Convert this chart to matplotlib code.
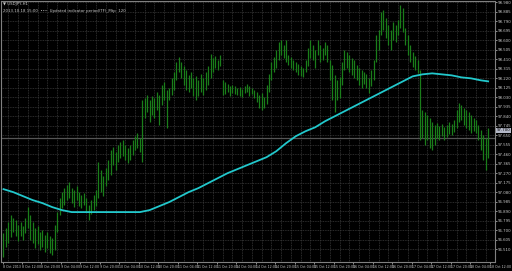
#!/usr/bin/env python3
"""USDJPY H1 bar chart with a long moving average, MetaTrader style."""

import matplotlib
matplotlib.use('Agg')
import matplotlib.pyplot as plt
import numpy as np

# bar highs / lows (price)
highs = [96.67, 96.72, 96.78, 96.85, 96.82, 96.80, 96.75, 96.78, 96.74, 96.82,
         96.93, 96.85, 96.78, 96.72, 96.74, 96.68, 96.70, 96.65, 96.68, 96.64,
         96.62, 96.75, 96.88, 97.02, 97.08, 97.12, 97.15, 97.18, 97.12, 97.10,
         97.14, 97.08, 97.05, 97.07, 97.02, 96.95, 97.00, 97.05, 97.10, 97.38,
         97.30, 97.24, 97.32, 97.40, 97.50, 97.53, 97.48, 97.55, 97.58, 97.60,
         97.55, 97.52, 97.55, 97.60, 97.64, 97.67, 97.62, 98.00, 98.02, 98.05,
         98.00, 98.04, 98.02, 98.08, 98.05, 98.15, 98.18, 98.10, 98.12, 98.22,
         98.28, 98.38, 98.43, 98.38, 98.34, 98.30, 98.25, 98.28, 98.22, 98.24,
         98.20, 98.26, 98.22, 98.28, 98.34, 98.46, 98.42, 98.44, 98.40, 98.45,
         98.20, 98.18, 98.16, 98.14, 98.15, 98.14, 98.12, 98.13, 98.11, 98.14,
         98.16, 98.14, 98.12, 98.10, 98.08, 98.05, 98.07, 98.03, 98.15, 98.26,
         98.38, 98.43, 98.50, 98.58, 98.60, 98.55, 98.60, 98.45, 98.43, 98.40,
         98.38, 98.36, 98.34, 98.32, 98.40, 98.52, 98.60, 98.55, 98.50, 98.60,
         98.55, 98.52, 98.58, 98.55, 98.40, 98.35, 98.25, 98.20, 98.23, 98.38,
         98.50, 98.48, 98.45, 98.42, 98.40, 98.35, 98.32, 98.30, 98.28, 98.26,
         98.22, 98.30, 98.40, 98.65, 98.70, 98.88, 98.90, 98.82, 98.75, 98.70,
         98.78, 98.75, 98.80, 98.95, 98.92, 98.72, 98.65, 98.55, 98.48, 98.44,
         98.40, 98.30, 97.90, 97.88, 97.85, 97.82, 97.78, 97.75, 97.77, 97.74,
         97.76, 97.73, 97.75, 97.78, 97.76, 97.80, 97.90, 97.97, 97.95, 97.92,
         97.90, 97.88, 97.85, 97.82, 97.80, 97.75, 97.70, 97.65, 97.62, 97.72]
lows = [96.43, 96.53, 96.57, 96.63, 96.68, 96.64, 96.59, 96.64, 96.60, 96.67,
        96.72, 96.60, 96.57, 96.52, 96.56, 96.50, 96.53, 96.48, 96.52, 96.47,
        96.45, 96.50, 96.68, 96.85, 96.92, 96.95, 97.00, 97.02, 96.97, 96.93,
        97.00, 96.94, 96.92, 96.95, 96.88, 96.80, 96.86, 96.90, 96.94, 97.02,
        97.08, 97.04, 97.14, 97.20, 97.25, 97.35, 97.30, 97.38, 97.42, 97.44,
        97.40, 97.37, 97.40, 97.45, 97.50, 97.52, 97.48, 97.38, 97.82, 97.88,
        97.78, 97.85, 97.82, 97.90, 97.75, 97.95, 98.00, 97.72, 98.00, 98.05,
        98.10, 98.20, 98.28, 98.22, 98.15, 98.10, 98.08, 98.12, 98.04, 98.00,
        98.04, 98.08, 98.05, 98.10, 98.15, 98.22, 98.28, 98.32, 98.30, 98.34,
        98.05, 98.06, 98.08, 98.04, 98.07, 98.06, 98.05, 98.04, 98.03, 98.07,
        98.08, 98.04, 98.06, 98.02, 97.98, 97.92, 97.90, 97.92, 97.96, 98.08,
        98.20, 98.28, 98.32, 98.40, 98.45, 98.42, 98.38, 98.35, 98.32, 98.30,
        98.28, 98.25, 98.24, 98.23, 98.28, 98.34, 98.42, 98.40, 98.32, 98.45,
        98.38, 98.40, 98.45, 98.38, 98.20, 98.00, 97.88, 98.00, 98.02, 98.15,
        98.30, 98.32, 98.28, 98.25, 98.22, 98.20, 98.15, 98.12, 98.16, 98.12,
        98.07, 98.14, 98.20, 98.38, 98.50, 98.65, 98.70, 98.62, 98.55, 98.50,
        98.60, 98.58, 98.65, 98.72, 98.68, 98.55, 98.45, 98.38, 98.33, 98.30,
        98.27, 97.60, 97.62, 97.55, 97.60, 97.52, 97.50, 97.55, 97.62, 97.60,
        97.64, 97.60, 97.63, 97.66, 97.65, 97.68, 97.72, 97.78, 97.80, 97.75,
        97.72, 97.70, 97.67, 97.69, 97.67, 97.60, 97.50, 97.40, 97.30, 97.42]

# moving average, sampled every 4 bars (last point at the last bar)
ma_index = [0, 4, 8, 12, 16, 20, 24, 28, 32, 36, 40, 44, 48, 52, 56, 60,
            64, 68, 72, 76, 80, 84, 88, 92, 96, 100, 104, 108, 112, 116,
            120, 124, 128, 132, 136, 140, 144, 148, 152, 156, 160, 164,
            168, 172, 176, 180, 184, 188, 192, 196, 199]
ma_values = [97.11, 97.08, 97.04, 97.00, 96.97, 96.93, 96.90, 96.88, 96.88,
             96.88, 96.88, 96.88, 96.88, 96.88, 96.88, 96.90, 96.94, 96.98,
             97.03, 97.08, 97.12, 97.17, 97.22, 97.27, 97.31, 97.35, 97.39,
             97.43, 97.49, 97.57, 97.64, 97.69, 97.73, 97.79, 97.84, 97.89,
             97.94, 97.99, 98.04, 98.09, 98.14, 98.19, 98.24, 98.26, 98.27,
             98.26, 98.25, 98.23, 98.22, 98.20, 98.19]

last_price = 97.70
level_line = 97.62

# price scale labels
price_ticks = [98.980, 98.885, 98.790, 98.695, 98.600, 98.505, 98.410, 98.315,
               98.220, 98.125, 98.030, 97.935, 97.840, 97.745, 97.650, 97.555,
               97.460, 97.365, 97.270, 97.175, 97.080, 96.985, 96.890, 96.795,
               96.700, 96.605, 96.510]

# time scale labels, one every 8 bars
time_labels = ['8 Oct 2013', '8 Oct 12:00', '8 Oct 20:00',
               '9 Oct 04:00', '9 Oct 12:00', '9 Oct 20:00',
               '10 Oct 04:00', '10 Oct 12:00', '10 Oct 20:00',
               '11 Oct 04:00', '11 Oct 12:00', '11 Oct 20:00',
               '14 Oct 04:00', '14 Oct 12:00', '14 Oct 20:00',
               '15 Oct 04:00', '15 Oct 12:00', '15 Oct 20:00',
               '16 Oct 04:00', '16 Oct 12:00', '16 Oct 20:00',
               '17 Oct 04:00', '17 Oct 12:00', '17 Oct 20:00',
               '18 Oct 04:00', '18 Oct 12:00']

BG = '#000000'
GRID = '#3a3a3a'
BAR_GREEN = '#1a7e1a'
MA_CYAN = '#22c8cc'
TEXT = '#c8c8c8'

W, H = 512, 271
fig = plt.figure(figsize=(W / 100, H / 100), dpi=100, facecolor=BG)
ax = fig.add_axes([0.5 / W, (H - 262) / H, 494 / W, 261.5 / H])
ax.set_facecolor(BG)

n = len(highs)
idx = np.arange(n)

# grid
for g in np.arange(2, n + 4, 4):
    ax.axvline(g, color=GRID, lw=0.6, ls=(0, (1, 1)), zorder=0)
for p in price_ticks:
    ax.axhline(p, color=GRID, lw=0.6, ls=(0, (1, 1)), zorder=0)
ax.axhline(level_line, color='#555555', lw=0.9, zorder=1)

# bars
ax.vlines(idx, lows, highs, color=BAR_GREEN, lw=0.9, zorder=2)

# moving average
ax.plot(ma_index, ma_values, color=MA_CYAN, lw=1.3, zorder=3)

ax.set_xlim(-1.23, 201.6)
ax.set_ylim(96.38, 99.00)

for s in ax.spines.values():
    s.set_color('#808080')
    s.set_linewidth(0.8)

ax.yaxis.tick_right()
ax.set_yticks(price_ticks)
ax.set_yticklabels([f'{p:.3f}' for p in price_ticks])
ax.tick_params(axis='y', colors=TEXT, labelsize=2.8, length=1.5, width=0.5, pad=1)

ax.set_xticks([8 * k - 0.4 for k in range(len(time_labels))])
ax.set_xticklabels(time_labels, ha='left')
ax.tick_params(axis='x', colors=TEXT, labelsize=2.3, length=1.5, width=0.5, pad=1)

# current price box
ax.text(1.004, last_price, f'{last_price:.3f}', transform=ax.get_yaxis_transform(),
        fontsize=2.8, color='#000000', va='center', ha='left',
        bbox=dict(boxstyle='square,pad=0.15', facecolor='#b4b8c8', edgecolor='none'))

# header texts
ax.text(0.006, 0.993, '\u25bc USDJPY,H1', transform=ax.transAxes,
        fontsize=2.8, color=TEXT, va='top', ha='left')
ax.text(0.006, 0.968, '2013.10.18 15:00  \u2022\u2022\u2022  Updated indicator period(TF)_Mtp  120',
        transform=ax.transAxes, fontsize=2.8, color=TEXT, va='top', ha='left')

fig.savefig('out.png', dpi=100, facecolor=BG)
